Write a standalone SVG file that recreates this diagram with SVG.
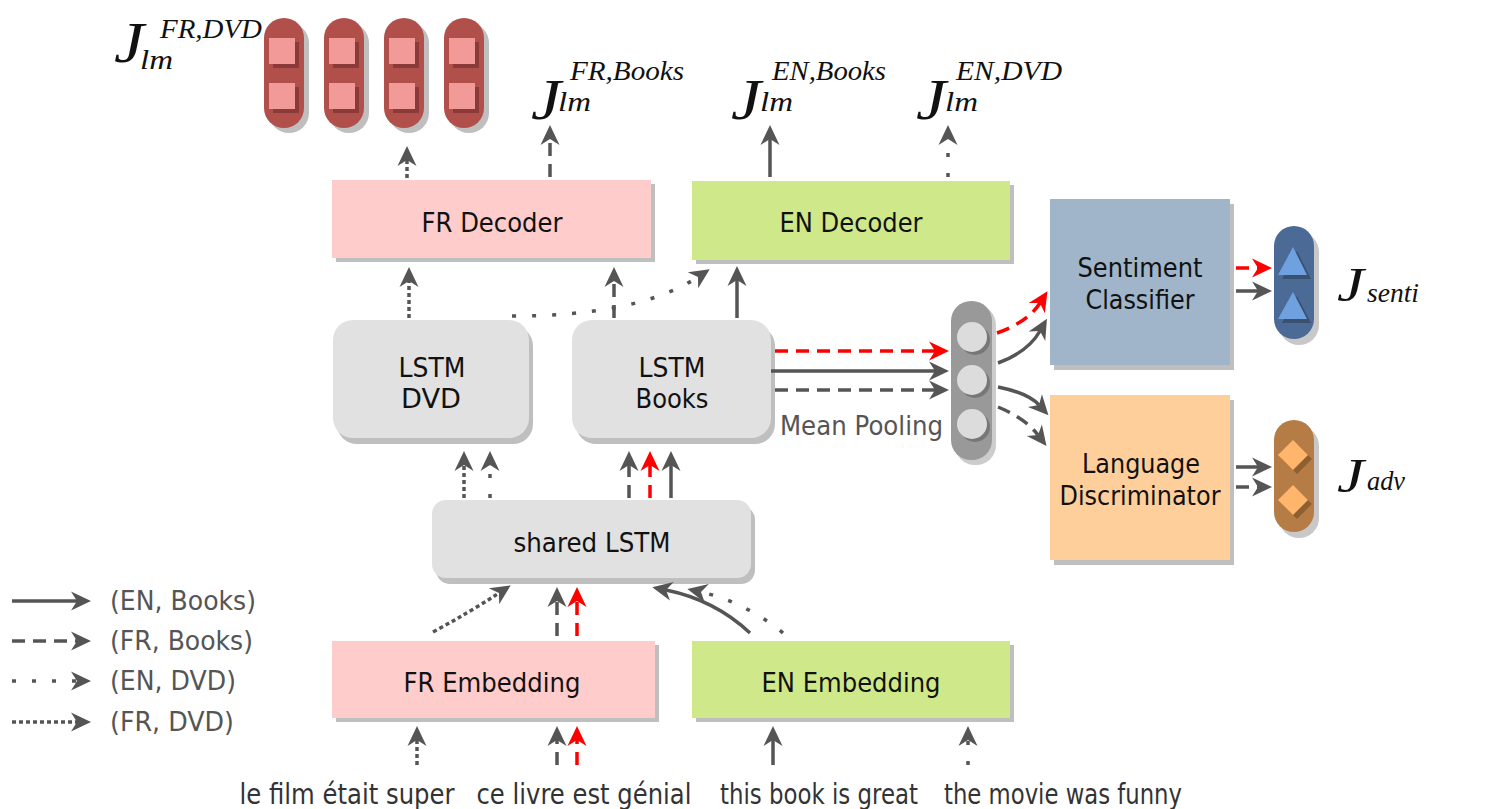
<svg xmlns="http://www.w3.org/2000/svg" width="1489" height="809" viewBox="0 0 1489 809">
<style>
.lbl{font-family:"DejaVu Sans",Verdana,sans-serif;font-size:26px;fill:#111;text-anchor:middle}
.leg{font-family:"DejaVu Sans",Verdana,sans-serif;font-size:26px;fill:#555}
.btm{font-family:"DejaVu Sans",Verdana,sans-serif;font-size:28px;fill:#333;text-anchor:middle}
.mJ{font-family:"Liberation Serif","DejaVu Serif",serif;font-style:italic;font-size:56px;fill:#111}
.mJs{font-family:"Liberation Serif","DejaVu Serif",serif;font-style:italic;font-size:48px;fill:#111}
.ms{font-family:"Liberation Serif","DejaVu Serif",serif;font-style:italic;font-size:28px;fill:#111}
.sh{fill:#bfbfbf}
.fr{fill:#ffcccc}
.en{fill:#cfe98a}
.ls{fill:#e1e1e1}
.c{fill:none;stroke:#555;stroke-width:3.5;marker-end:url(#ag)}
.r{stroke:#f00;marker-end:url(#ar)}
.da{stroke-dasharray:13 8}
.sd{stroke-dasharray:4 16}
.dd{stroke-dasharray:4 3}
</style>
<defs>
<marker id="ag" markerUnits="userSpaceOnUse" markerWidth="22" markerHeight="20" refX="6" refY="9.5" orient="auto" overflow="visible">
<path d="M0,0 L20,9.5 L0,19 L6,9.5 z" fill="#555"/>
</marker>
<marker id="ar" markerUnits="userSpaceOnUse" markerWidth="22" markerHeight="20" refX="6" refY="9.5" orient="auto" overflow="visible">
<path d="M0,0 L20,9.5 L0,19 L6,9.5 z" fill="#f00"/>
</marker>
</defs>
<rect width="1489" height="809" fill="#fff"/>

<!-- top red pills -->
<g id="lm-fr-dvd-output">
<rect x="269" y="23" width="40" height="110" rx="20" class="sh"/>
<rect x="264" y="18" width="40" height="110" rx="20" fill="#b14f4b"/>
<rect x="273" y="42" width="26" height="26" fill="#8a3a38"/><rect x="269" y="38" width="26" height="26" fill="#f29a98"/>
<rect x="273" y="87" width="26" height="26" fill="#8a3a38"/><rect x="269" y="83" width="26" height="26" fill="#f29a98"/>
<rect x="329" y="23" width="40" height="110" rx="20" class="sh"/>
<rect x="324" y="18" width="40" height="110" rx="20" fill="#b14f4b"/>
<rect x="333" y="42" width="26" height="26" fill="#8a3a38"/><rect x="329" y="38" width="26" height="26" fill="#f29a98"/>
<rect x="333" y="87" width="26" height="26" fill="#8a3a38"/><rect x="329" y="83" width="26" height="26" fill="#f29a98"/>
<rect x="389" y="23" width="40" height="110" rx="20" class="sh"/>
<rect x="384" y="18" width="40" height="110" rx="20" fill="#b14f4b"/>
<rect x="393" y="42" width="26" height="26" fill="#8a3a38"/><rect x="389" y="38" width="26" height="26" fill="#f29a98"/>
<rect x="393" y="87" width="26" height="26" fill="#8a3a38"/><rect x="389" y="83" width="26" height="26" fill="#f29a98"/>
<rect x="449" y="23" width="40" height="110" rx="20" class="sh"/>
<rect x="444" y="18" width="40" height="110" rx="20" fill="#b14f4b"/>
<rect x="453" y="42" width="26" height="26" fill="#8a3a38"/><rect x="449" y="38" width="26" height="26" fill="#f29a98"/>
<rect x="453" y="87" width="26" height="26" fill="#8a3a38"/><rect x="449" y="83" width="26" height="26" fill="#f29a98"/>
</g>

<!-- math labels -->
<g id="label-fr-dvd">
<text x="114" y="62" class="mJ" textLength="30" lengthAdjust="spacingAndGlyphs">J</text>
<text x="160" y="38" class="ms" textLength="102" lengthAdjust="spacingAndGlyphs">FR,DVD</text>
<text x="140" y="69" class="ms" textLength="33" lengthAdjust="spacingAndGlyphs">lm</text>
</g>
<g id="label-fr-books">
<text x="531" y="119" class="mJ" textLength="30" lengthAdjust="spacingAndGlyphs">J</text>
<text x="570" y="80" class="ms" textLength="114" lengthAdjust="spacingAndGlyphs">FR,Books</text>
<text x="558" y="111" class="ms" textLength="33" lengthAdjust="spacingAndGlyphs">lm</text>
</g>
<g id="label-en-books">
<text x="731" y="119" class="mJ" textLength="30" lengthAdjust="spacingAndGlyphs">J</text>
<text x="772" y="80" class="ms" textLength="114" lengthAdjust="spacingAndGlyphs">EN,Books</text>
<text x="760" y="111" class="ms" textLength="33" lengthAdjust="spacingAndGlyphs">lm</text>
</g>
<g id="label-en-dvd">
<text x="916" y="119" class="mJ" textLength="30" lengthAdjust="spacingAndGlyphs">J</text>
<text x="956" y="80" class="ms" textLength="106" lengthAdjust="spacingAndGlyphs">EN,DVD</text>
<text x="945" y="111" class="ms" textLength="33" lengthAdjust="spacingAndGlyphs">lm</text>
</g>

<!-- decoders -->
<g id="fr-decoder">
<rect x="336" y="184" width="319" height="78" class="sh"/>
<rect x="332" y="180" width="319" height="78" class="fr"/>
<text x="492" y="232" class="lbl" textLength="141" lengthAdjust="spacingAndGlyphs">FR Decoder</text>
</g>
<g id="en-decoder">
<rect x="696" y="185" width="318" height="79" class="sh"/>
<rect x="692" y="181" width="318" height="79" class="en"/>
<text x="851" y="232" class="lbl" textLength="143" lengthAdjust="spacingAndGlyphs">EN Decoder</text>
</g>

<!-- LSTMs -->
<g id="lstm-dvd">
<rect x="337" y="326" width="196" height="118" rx="20" class="sh"/>
<rect x="333" y="320" width="196" height="118" rx="20" class="ls"/>
<text x="432" y="377" class="lbl" textLength="67" lengthAdjust="spacingAndGlyphs">LSTM</text>
<text x="431" y="408" class="lbl" textLength="60" lengthAdjust="spacingAndGlyphs">DVD</text>
</g>
<g id="lstm-books">
<rect x="576" y="326" width="199" height="118" rx="20" class="sh"/>
<rect x="572" y="320" width="199" height="118" rx="20" class="ls"/>
<text x="672" y="377" class="lbl" textLength="67" lengthAdjust="spacingAndGlyphs">LSTM</text>
<text x="672" y="408" class="lbl" textLength="73" lengthAdjust="spacingAndGlyphs">Books</text>
</g>
<g id="shared-lstm">
<rect x="436" y="506" width="319" height="78" rx="14" class="sh"/>
<rect x="432" y="500" width="319" height="78" rx="14" class="ls"/>
<text x="592" y="552" class="lbl" textLength="157" lengthAdjust="spacingAndGlyphs">shared LSTM</text>
</g>

<!-- embeddings -->
<g id="fr-embedding">
<rect x="336" y="645" width="323" height="77" class="sh"/>
<rect x="332" y="641" width="323" height="77" class="fr"/>
<text x="492" y="692" class="lbl" textLength="177" lengthAdjust="spacingAndGlyphs">FR Embedding</text>
</g>
<g id="en-embedding">
<rect x="696" y="645" width="318" height="77" class="sh"/>
<rect x="692" y="641" width="318" height="77" class="en"/>
<text x="851" y="692" class="lbl" textLength="179" lengthAdjust="spacingAndGlyphs">EN Embedding</text>
</g>

<!-- mean pooling -->
<g id="mean-pooling">
<rect x="955" y="305" width="41" height="160" rx="20" fill="#cccccc"/>
<rect x="951" y="301" width="41" height="159" rx="20" fill="#999999"/>
<circle cx="975" cy="340" r="15" fill="#777"/><circle cx="972" cy="337" r="15" fill="#dcdcdc"/>
<circle cx="975" cy="383" r="15" fill="#777"/><circle cx="972" cy="380" r="15" fill="#dcdcdc"/>
<circle cx="975" cy="427" r="15" fill="#777"/><circle cx="972" cy="424" r="15" fill="#dcdcdc"/>
<text x="780" y="435" class="leg" textLength="163" lengthAdjust="spacingAndGlyphs">Mean Pooling</text>
</g>

<!-- classifiers -->
<g id="sentiment-classifier">
<rect x="1054" y="204" width="180" height="166" class="sh"/>
<rect x="1050" y="199" width="180" height="166" fill="#a0b5c9"/>
<text x="1140" y="277" class="lbl" textLength="125" lengthAdjust="spacingAndGlyphs">Sentiment</text>
<text x="1140" y="309" class="lbl" textLength="109" lengthAdjust="spacingAndGlyphs">Classifier</text>
</g>
<g id="language-discriminator">
<rect x="1054" y="400" width="180" height="165" class="sh"/>
<rect x="1050" y="395" width="180" height="165" fill="#fecf9b"/>
<text x="1141" y="473" class="lbl" textLength="118" lengthAdjust="spacingAndGlyphs">Language</text>
<text x="1140" y="505" class="lbl" textLength="161" lengthAdjust="spacingAndGlyphs">Discriminator</text>
</g>

<!-- output pills -->
<g id="senti-output">
<rect x="1279" y="232" width="40" height="113" rx="20" fill="#c8c8c8"/>
<rect x="1274" y="226" width="40" height="113" rx="20" fill="#4c6a96"/>
<polygon points="1297,251 1282,279 1311,279" fill="#3a5070"/>
<polygon points="1293,247 1278,275 1307,275" fill="#6fa1e1"/>
<polygon points="1297,296 1282,323 1311,323" fill="#3a5070"/>
<polygon points="1293,292 1278,319 1307,319" fill="#6fa1e1"/>
<text x="1337" y="301" class="mJs" textLength="27" lengthAdjust="spacingAndGlyphs">J</text>
<text x="1367" y="302" class="ms" textLength="52" lengthAdjust="spacingAndGlyphs">senti</text>
</g>
<g id="adv-output">
<rect x="1279" y="426" width="40" height="112" rx="20" fill="#c8c8c8"/>
<rect x="1274" y="420" width="40" height="112" rx="20" fill="#b57c45"/>
<polygon points="1297,444 1312,459 1297,474 1282,459" fill="#8d5f31"/>
<polygon points="1293,440 1308,455 1293,470 1278,455" fill="#ffb56b"/>
<polygon points="1297,489 1312,504 1297,519 1282,504" fill="#8d5f31"/>
<polygon points="1293,485 1308,500 1293,515 1278,500" fill="#ffb56b"/>
<text x="1337" y="492" class="mJs" textLength="27" lengthAdjust="spacingAndGlyphs">J</text>
<text x="1367" y="490" class="ms" textLength="38" lengthAdjust="spacingAndGlyphs">adv</text>
</g>

<!-- connectors -->
<g id="connectors">
<path class="c dd" d="M407,178 L407,160"/>
<path class="c da" d="M550,177 L550,139"/>
<path class="c" d="M770,177 L770,139"/>
<path class="c sd" d="M948,177 L948,139"/>

<path class="c dd" d="M409,318 L409,281"/>
<path class="c da" d="M614,318 L614,281"/>
<path class="c" d="M737,318 L737,280"/>
<path class="c sd" d="M512,316 C590,316 655,305 698,277"/>

<path class="c dd" d="M464,498 L464,465"/>
<path class="c sd" d="M490,498 L490,465"/>
<path class="c da" d="M629,498 L629,465"/>
<path class="c r da" d="M650,498 L650,465"/>
<path class="c" d="M671,498 L671,465"/>

<path class="c dd" d="M433,632 Q470,612 499,593"/>
<path class="c da" d="M557,636 L557,601"/>
<path class="c r da" d="M577,636 L577,601"/>
<path class="c" d="M750,633 Q715,600 666,590"/>
<path class="c sd" d="M783,633 Q745,602 701,592"/>

<path class="c dd" d="M417,765 L417,740"/>
<path class="c da" d="M557,765 L557,740"/>
<path class="c r da" d="M577,765 L577,740"/>
<path class="c" d="M773,765 L773,740"/>
<path class="c sd" d="M968,765 L968,740"/>

<path class="c r da" d="M775,351 L935,351"/>
<path class="c" d="M771,371 L935,371"/>
<path class="c da" d="M775,390 L935,390"/>

<path class="c r da" d="M997,333 Q1028,322 1040,303"/>
<path class="c" d="M998,363 Q1028,352 1040,331"/>
<path class="c" d="M998,387 Q1028,393 1039,405"/>
<path class="c da" d="M998,407 Q1025,418 1038,435"/>

<path class="c r da" d="M1236,268 L1258,268"/>
<path class="c" d="M1236,291 L1258,291"/>
<path class="c" d="M1236,467 L1258,467"/>
<path class="c da" d="M1236,487 L1258,487"/>
</g>

<!-- legend -->
<g id="legend">
<path class="c" d="M12,601 L77,601"/>
<path class="c da" d="M12,641 L77,641"/>
<path class="c sd" d="M12,681 L77,681"/>
<path class="c dd" d="M12,722 L77,722"/>
<text x="110" y="610" class="leg" textLength="146" lengthAdjust="spacingAndGlyphs">(EN, Books)</text>
<text x="110" y="650" class="leg" textLength="143" lengthAdjust="spacingAndGlyphs">(FR, Books)</text>
<text x="110" y="690" class="leg" textLength="126" lengthAdjust="spacingAndGlyphs">(EN, DVD)</text>
<text x="110" y="731" class="leg" textLength="124" lengthAdjust="spacingAndGlyphs">(FR, DVD)</text>
</g>

<!-- input sentences -->
<g id="inputs">
<text x="347" y="804" class="btm" textLength="215" lengthAdjust="spacingAndGlyphs">le film était super</text>
<text x="584" y="804" class="btm" textLength="215" lengthAdjust="spacingAndGlyphs">ce livre est génial</text>
<text x="819" y="804" class="btm" textLength="198" lengthAdjust="spacingAndGlyphs">this book is great</text>
<text x="1063" y="804" class="btm" textLength="238" lengthAdjust="spacingAndGlyphs">the movie was funny</text>
</g>
</svg>
